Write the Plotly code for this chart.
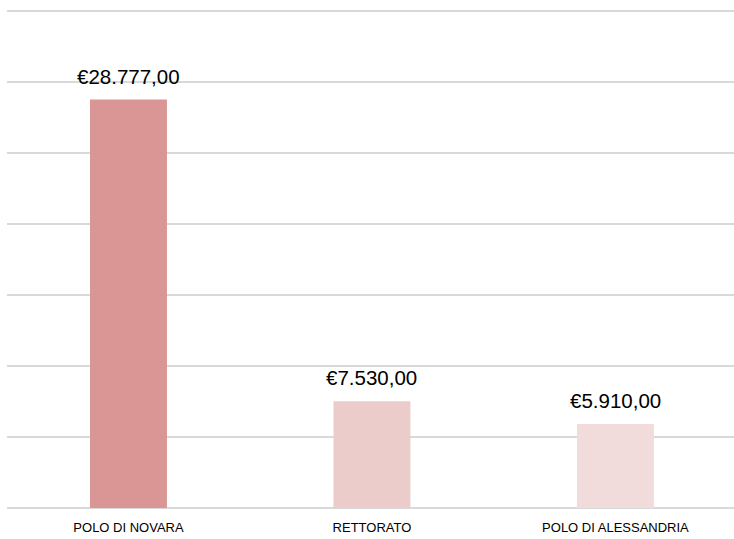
import plotly.graph_objects as go

categories = ["POLO DI NOVARA", "RETTORATO", "POLO DI ALESSANDRIA"]
values = [28777.00, 7530.00, 5910.00]
value_labels = ["€28.777,00", "€7.530,00", "€5.910,00"]
bar_colors = ["#D99694", "#EBCCCB", "#F2DCDB"]

fig = go.Figure()
fig.add_trace(go.Bar(
    x=categories,
    y=values,
    marker=dict(color=bar_colors, line=dict(width=0)),
    width=0.316,
    hoverinfo="skip",
))

for cat, val, lab in zip(categories, values, value_labels):
    fig.add_annotation(
        x=cat, y=val, text=lab, showarrow=False,
        yanchor="bottom", yshift=10,
        font=dict(family="Liberation Sans, Arial, sans-serif", size=20.5, color="#000000"),
    )

fig.update_layout(
    width=734, height=539,
    margin=dict(l=7, r=0, t=7, b=31),
    paper_bgcolor="white", plot_bgcolor="white",
    showlegend=False,
    font=dict(family="Liberation Sans, Arial, sans-serif", size=14, color="#000000"),
    xaxis=dict(
        range=[-0.499, 2.487],
        showgrid=False, zeroline=False, showline=False,
        ticks="", ticklabelstandoff=10,
        tickfont=dict(family="Liberation Sans, Arial, sans-serif",
                      size=13, color="#000000"),
    ),
    yaxis=dict(
        range=[0, 35300], tick0=0, dtick=5000,
        showgrid=True, gridcolor="#D9D9D9", gridwidth=2,
        zeroline=True, zerolinecolor="#D9D9D9", zerolinewidth=2,
        showticklabels=False, ticks="",
    ),
)

fig.write_html("out.html")
